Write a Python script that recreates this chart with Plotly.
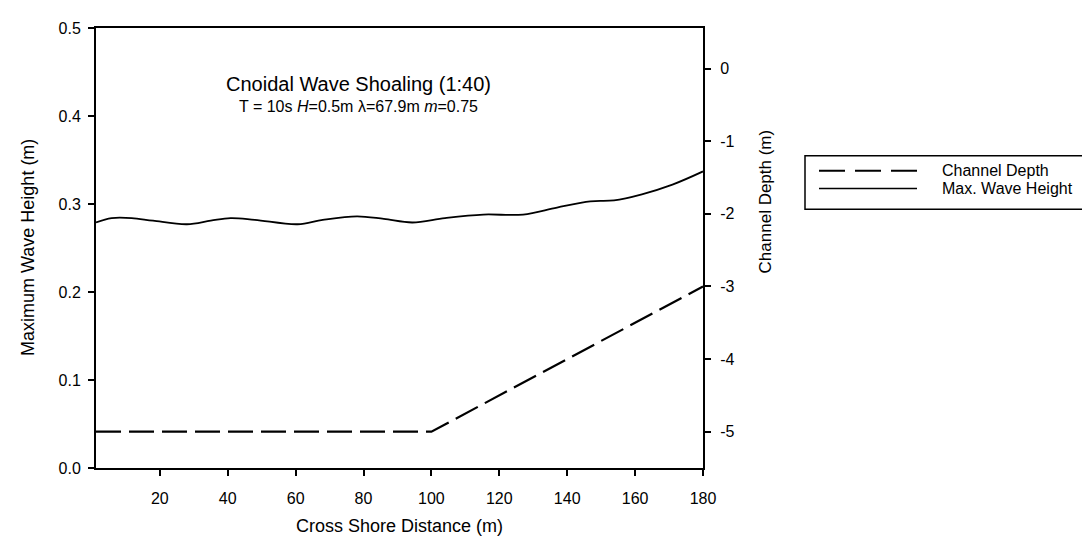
import plotly.graph_objects as go

# ---- data ----
depth_x = [1.2, 100, 180]
depth_y = [-5.0, -5.0, -3.0]

wave_x = [1.2, 5.8, 11.7, 18, 28, 35, 40.8, 48, 60.6, 68, 78.1, 86, 94.4, 104,
          115.3, 127, 137, 146.8, 153.8, 162, 171, 180]
wave_y = [0.279, 0.284, 0.284, 0.281, 0.277, 0.281, 0.284, 0.282, 0.277, 0.282,
          0.286, 0.283, 0.279, 0.284, 0.288, 0.288, 0.296, 0.303, 0.304, 0.311,
          0.322, 0.337]

x_ticks = [20, 40, 60, 80, 100, 120, 140, 160, 180]
left_ticks = [0.0, 0.1, 0.2, 0.3, 0.4, 0.5]
right_ticks = [0, -1, -2, -3, -4, -5]
right_labels = ["0", "-1", "-2", "-3", "-4", "-5"]

# ---- layout geometry (pixels) ----
W, H = 1090, 536
PL, PR, PT, PB = 88, 695, 16, 460


def px(xp):
    return (xp - PL) / (PR - PL)


def py(yp):
    return (PB - yp) / (PB - PT)


FONT = "Arial, Liberation Sans, sans-serif"

fig = go.Figure()
fig.add_trace(go.Scatter(x=depth_x, y=depth_y, mode="lines", name="Channel Depth",
                         yaxis="y2", showlegend=False,
                         line=dict(color="black", width=2.2, dash="25px,8px")))
fig.add_trace(go.Scatter(x=wave_x, y=wave_y, mode="lines", name="Max. Wave Height",
                         showlegend=False, line=dict(color="black", width=1.8, shape="spline")))

axis_common = dict(showgrid=False, zeroline=False, showline=True, linecolor="black",
                   linewidth=2, ticks="outside", ticklen=6, tickwidth=1.5,
                   tickcolor="black", tickfont=dict(family=FONT, size=16, color="black"))

fig.update_layout(
    width=W, height=H, autosize=False,
    margin=dict(l=PL, r=W - PR, t=PT, b=H - PB, pad=0),
    paper_bgcolor="white", plot_bgcolor="white",
    font=dict(family=FONT, color="black"),
    xaxis=dict(range=[1.2, 180], tickvals=x_ticks, mirror=True, ticklabelstandoff=9,
               **axis_common),
    yaxis=dict(range=[0, 0.5], tickvals=left_ticks, tickformat=".1f", ticklabelstandoff=4,
               **axis_common),
    yaxis2=dict(range=[-5.5, 0.56], tickvals=right_ticks, ticktext=right_labels,
                overlaying="y", side="right", ticklabelstandoff=6, **axis_common),
)

ann = [
    dict(text="Cnoidal Wave Shoaling (1:40)", x=px(350), y=py(73), size=20),
    dict(text="T = 10s <i>H</i>=0.5m λ=67.9m <i>m</i>=0.75", x=px(350), y=py(95), size=16),
    dict(text="Cross Shore Distance (m)", x=px(391), y=py(519), size=18),
    dict(text="Maximum Wave Height (m)", x=px(20), y=py(238), textangle=-90, size=18),
    dict(text="Channel Depth (m)", x=px(757), y=py(191), textangle=-90, size=17),
    dict(text="Channel Depth", x=px(932), y=py(160), xanchor="left", size=16),
    dict(text="Max. Wave Height", x=px(932), y=py(178), xanchor="left", size=16),
]
for a in ann:
    size = a.pop("size")
    a.setdefault("xanchor", "center")
    fig.add_annotation(xref="paper", yref="paper", showarrow=False, yanchor="middle",
                       font=dict(family=FONT, color="black", size=size), **a)

# custom legend box
fig.add_shape(type="rect", xref="paper", yref="paper", x0=px(797), x1=px(1087),
              y0=py(199), y1=py(145), line=dict(color="black", width=1.5))
fig.add_shape(type="line", xref="paper", yref="paper", x0=px(811), x1=px(909),
              y0=py(160), y1=py(160), line=dict(color="black", width=2, dash="26px,10px"))
fig.add_shape(type="line", xref="paper", yref="paper", x0=px(811), x1=px(909),
              y0=py(178), y1=py(178), line=dict(color="black", width=1.6))

fig.write_html("out.html")
